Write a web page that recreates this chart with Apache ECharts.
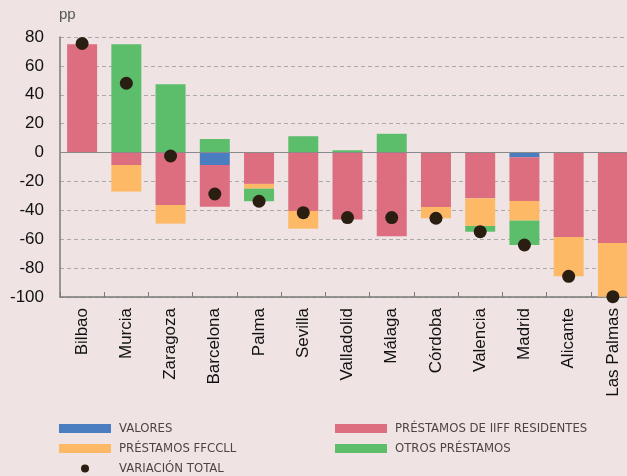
<!DOCTYPE html>
<html>
<head>
<meta charset="utf-8">
<script src="https://cdn.jsdelivr.net/npm/echarts@6/dist/echarts.min.js"></script>
<style>
  html, body { margin: 0; padding: 0; background: #EFE4E3; }
  #main { width: 627px; height: 476px; }
</style>
</head>
<body>
<div id="main"></div>
<script>
// ciudades
var ciudades = ['Bilbao', 'Murcia', 'Zaragoza', 'Barcelona', 'Palma', 'Sevilla', 'Valladolid',
    'Málaga', 'Córdoba', 'Valencia', 'Madrid', 'Alicante', 'Las Palmas'];
// componentes (pp)
var valores = [0, 0, 0, -8.6, 0, 0, 0, 0, 0, 0, -3.3, 0, 0];
var prestamosIiff = [75, -8.6, -36.3, -29, -21.7, -40.4, -46.4, -58, -37.7, -31.7, -30.2, -58.4, -62.6];
var prestamosFfccll = [0, -18.4, -12.9, 0, -3.3, -12.3, 0, 0, -7.8, -19.1, -13.6, -27.3, -37.2];
var otrosPrestamos = [0, 75, 47.3, 9.4, -8.7, 11.3, 1.6, 13, 0, -4, -16.9, 0, 0];
var variacionTotal = [75.5, 48, -2.4, -28.7, -33.7, -41.6, -45, -45, -45.5, -54.8, -64, -85.7, -99.8];

var dom = document.getElementById('main');
var myChart = echarts.init(dom);

var fuenteLeyenda = {
    fontFamily: '"Liberation Sans Narrow", "DejaVu Sans Condensed", sans-serif',
    fontSize: 13,
    color: '#4d4544',
    padding: [0, 0, 0, 3]
};

function barra(nombre, datos, color) {
    return {
        name: nombre,
        type: 'bar',
        stack: 'total',
        barWidth: 30,
        itemStyle: { color: color },
        data: datos
    };
}

var serieIiff = barra('PRÉSTAMOS DE IIFF RESIDENTES', prestamosIiff, '#DC6E7F');
// linea del cero
serieIiff.markLine = {
    silent: true,
    symbol: 'none',
    label: { show: false },
    lineStyle: { color: '#8a8a8a', type: 'solid', width: 1 },
    data: [{ yAxis: 0 }]
};

var option = {
    backgroundColor: '#EFE4E3',
    animation: false,
    textStyle: { fontFamily: '"Liberation Sans", Arial, sans-serif' },
    graphic: [{
        type: 'text',
        left: 59,
        top: 7,
        style: { text: 'pp', fontSize: 15, fill: '#555', fontFamily: '"Liberation Sans", Arial, sans-serif' }
    }],
    legend: [{
        left: 59, top: 422, orient: 'vertical', padding: 0,
        itemWidth: 52, itemHeight: 9, itemGap: 7, icon: 'rect',
        textStyle: fuenteLeyenda,
        data: ['VALORES', 'PRÉSTAMOS FFCCLL']
    }, {
        left: 81, top: 462, orient: 'vertical', padding: 0,
        itemWidth: 8, itemHeight: 8, icon: 'circle',
        textStyle: Object.assign({}, fuenteLeyenda, { padding: [0, 0, 0, 25] }),
        data: ['VARIACIÓN TOTAL']
    }, {
        left: 335, top: 422, orient: 'vertical', padding: 0,
        itemWidth: 52, itemHeight: 9, itemGap: 7, icon: 'rect',
        textStyle: fuenteLeyenda,
        data: ['PRÉSTAMOS DE IIFF RESIDENTES', 'OTROS PRÉSTAMOS']
    }],
    grid: {
        left: 60, top: 37, width: 575, height: 260,
        containLabel: false,
        outerBoundsMode: 'none'
    },
    xAxis: {
        type: 'category',
        data: ciudades,
        axisLine: { onZero: false, lineStyle: { color: '#7a7a7a', width: 1.5 } },
        axisTick: { show: true, inside: true, length: 5, lineStyle: { color: '#7a7a7a' } },
        axisLabel: { rotate: 90, margin: 11, fontSize: 17, color: '#111', interval: 0 }
    },
    yAxis: {
        type: 'value',
        min: -100,
        max: 80,
        interval: 20,
        axisLine: { show: true, lineStyle: { color: '#7a7a7a', width: 1.5 } },
        axisTick: { show: false },
        axisLabel: { fontSize: 17, color: '#111', margin: 16 },
        splitLine: { lineStyle: { color: '#aaa', type: [4, 3] } }
    },
    series: [
        barra('VALORES', valores, '#4A7EC0'),
        serieIiff,
        barra('PRÉSTAMOS FFCCLL', prestamosFfccll, '#FDB965'),
        barra('OTROS PRÉSTAMOS', otrosPrestamos, '#5CBD6B'),
        {
            name: 'VARIACIÓN TOTAL',
            type: 'scatter',
            symbol: 'circle',
            symbolSize: 13,
            z: 5,
            itemStyle: { color: '#2A1D12', opacity: 1 },
            data: variacionTotal
        }
    ]
};

if (option && typeof option === 'object') {
    myChart.setOption(option, true);
}
</script>
</body>
</html>
